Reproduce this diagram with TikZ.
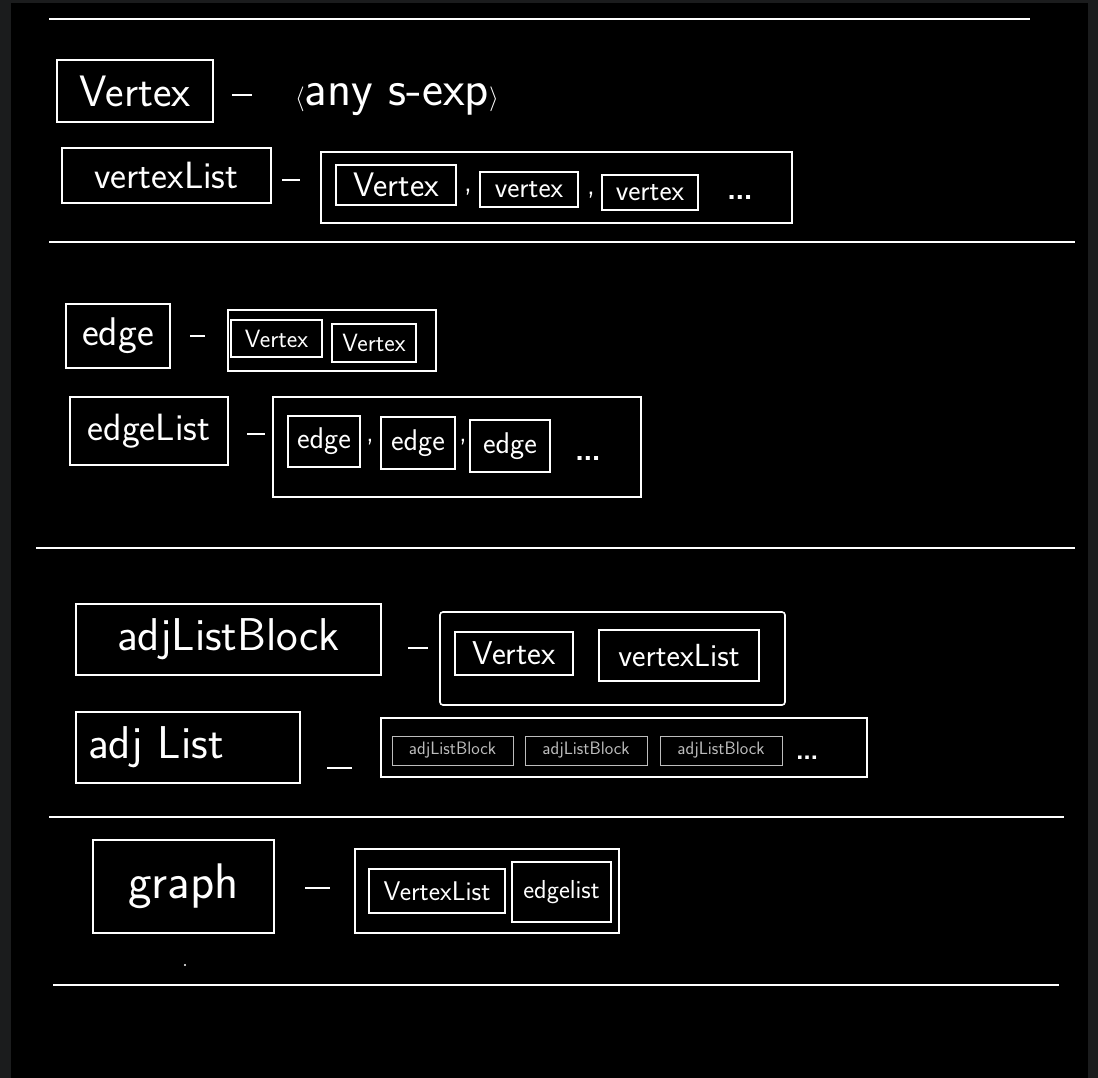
\documentclass[tikz,border=0pt]{standalone}
\usepackage{tikz}
\usetikzlibrary{positioning}

\definecolor{frame}{HTML}{1B1C1D}
\definecolor{thin}{HTML}{BDBDBD}

\begin{document}
\begin{tikzpicture}[
            x=1pt, y=-1pt,
            box/.style={draw=white, line width=1.6pt, inner sep=0pt, text=white},
            inbox/.style={box, line width=1.2pt},
            smallbox/.style={draw=thin, line width=0.8pt, inner sep=0pt, text=thin},
            hw/.style={font=\sffamily\fontsize{#1}{#1}\selectfont},
            word/.style={text=white, inner sep=0pt},
            rule/.style={draw=white, line width=2pt},
            defsep/.style={draw=white, line width=1.6pt}
        ]

        % Background
        \fill[frame] (0,0) rectangle (1098,1078);
        \fill[black] (11,3) rectangle (1088,1078);
        \useasboundingbox (0,0) rectangle (1098,1078);

        % Rules between the groups
        \draw[rule] (49,19) -- (1030,19);
        \draw[rule] (49,242) -- (1075,242);
        \draw[rule] (36,548) -- (1075,548);
        \draw[rule] (49,817) -- (1064,817);
        \draw[rule] (53,985) -- (1059,985);

        % Vertex / vertexList
        \node[box, hw=44, minimum width=156, minimum height=62] (vertex) at (135,91) {Vertex};
        \node[word, hw=50] (sexp) at (397,100) {$\langle$any s-exp$\rangle$};
        \draw[defsep] (232,95) -- (252,95);

        \node[box, hw=38, minimum width=209, minimum height=55] (vlist) at (166.5,175.5) {vertexList};
        \draw[defsep] (282,180) -- (300,180);
        \node[box, minimum width=471, minimum height=71] (vlout) at (556.5,187.5) {};
        \node[inbox, hw=34, minimum width=120, minimum height=40] (vl1) at (396,185) {Vertex};
        \node[inbox, hw=29, minimum width=98, minimum height=35] (vl2) at (529,189.5) {vertex};
        \node[inbox, hw=29, minimum width=96, minimum height=35] (vl3) at (650,192.5) {vertex};
        \node[word, hw=30] (c1) at (468,192) {,};
        \node[word, hw=30] (c2) at (591,195) {,};
        \node[word, hw=50] (vldots) at (740,198) {\dots};

        % edge / edgeList
        \node[box, hw=40, minimum width=104, minimum height=64] (edge) at (118,336) {edge};
        \draw[defsep] (190,336) -- (205,336);
        \node[box, minimum width=208, minimum height=61] (eout) at (332,340.5) {};
        \node[inbox, hw=25, minimum width=91, minimum height=37] (e1) at (276.5,338.5) {Vertex};
        \node[inbox, hw=25, minimum width=84, minimum height=38] (e2) at (374,343) {Vertex};

        \node[box, hw=38, minimum width=158, minimum height=68] (elist) at (149,431) {edgeList};
        \draw[defsep] (247,434) -- (265,434);
        \node[box, minimum width=368, minimum height=100] (elout) at (457,447) {};
        \node[inbox, hw=30, minimum width=72, minimum height=51] (el1) at (324,441.5) {edge};
        \node[inbox, hw=30, minimum width=74, minimum height=52] (el2) at (418,443) {edge};
        \node[inbox, hw=30, minimum width=80, minimum height=52] (el3) at (510,446) {edge};
        \node[word, hw=28] (c3) at (370,442) {,};
        \node[word, hw=28] (c4) at (463,442) {,};
        \node[word, hw=50] (eldots) at (588,458) {\dots};

        % adjListBlock / adjList
        \node[box, hw=46, minimum width=305, minimum height=71] (alb) at (228.5,639.5) {adjListBlock};
        \draw[defsep] (408,648) -- (428,648);
        \node[box, rounded corners=3pt, minimum width=345, minimum height=93] (albout) at (612.5,658.5) {};
        \node[inbox, hw=33, minimum width=118, minimum height=43] (alb1) at (514,653.5) {Vertex};
        \node[inbox, hw=32, minimum width=160, minimum height=51] (alb2) at (679,655.5) {vertexList};

        \node[box, hw=46, minimum width=224, minimum height=71, text width=208, align=left] (adj) at (188,747.5) {\hspace*{4pt}adj List};
        \draw[defsep] (327,768) -- (352,768);
        \node[box, minimum width=486, minimum height=59] (adjout) at (624,747.5) {};
        \node[smallbox, hw=18, minimum width=121, minimum height=29] (ab1) at (452.5,750.5) {adjListBlock};
        \node[smallbox, hw=18, minimum width=122, minimum height=29] (ab2) at (586,750.5) {adjListBlock};
        \node[smallbox, hw=18, minimum width=122, minimum height=29] (ab3) at (721,750.5) {adjListBlock};
        \node[word, hw=44] (adjdots) at (808,758) {\dots};

        % graph
        \node[box, hw=50, minimum width=181, minimum height=93] (graph) at (183.5,886.5) {graph};
        \draw[defsep] (305,888) -- (330,888);
        \node[box, minimum width=264, minimum height=84] (gout) at (487,891) {};
        \node[inbox, hw=27, minimum width=136, minimum height=44] (g1) at (437,891) {VertexList};
        \node[inbox, hw=26, minimum width=99, minimum height=60] (g2) at (561.5,892) {edgelist};
        \fill[white] (185,965) circle (1.2);

        \end{tikzpicture}
\end{document}
